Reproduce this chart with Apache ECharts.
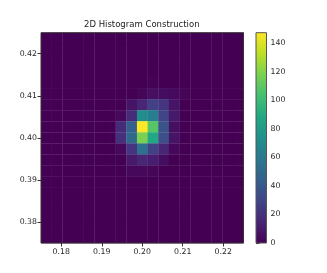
<!DOCTYPE html>
<html>
<head>
<meta charset="utf-8">
<script src="https://cdn.jsdelivr.net/npm/echarts@6/dist/echarts.min.js"></script>
<style>
html,body{margin:0;padding:0;background:#fff;}
#chart{width:327px;height:273px;}
</style>
</head>
<body>
<div id="chart"></div>
<script>
// ---- data ----
const titleText = '2D Histogram Construction';
const xRange = [0.175, 0.225];
const yRange = [0.375, 0.425];
const binCount = 19;
const xTicks = [0.18, 0.19, 0.20, 0.21, 0.22];
const yTicks = [0.38, 0.39, 0.40, 0.41, 0.42];
const cbarTicks = [0, 20, 40, 60, 80, 100, 120, 140];
const cbarMax = 147.4;
// counts: rows from top (high y) to bottom, columns left to right
const counts = [
  [0,0,0,0,0,0,0,0,0,0,0,0,0,0,0,0,0,0,0],
  [0,0,0,0,0,0,0,0,0,0,0,0,0,0,0,0,0,0,0],
  [0,0,0,0,0,0,0,0,0,0,0,0,0,0,0,0,0,0,0],
  [0,0,0,0,0,0,0,0,0,0,0,0,0,0,0,0,0,0,0],
  [0,0,0,0,0,0,0,0,0,0,1,0,0,0,0,0,0,0,0],
  [0,0,0,0,0,0,0,0,0,2,6,5,4,2,0,0,0,0,0],
  [0,0,0,0,0,0,0,0,8,15,28,22,8,0,0,0,0,0,0],
  [0,0,0,0,0,0,0,3,18,72,62,30,10,0,0,0,0,0,0],
  [0,0,0,0,0,0,0,18,45,147,108,38,6,0,0,0,0,0,0],
  [0,0,0,0,0,0,0,20,50,118,88,35,8,0,0,0,0,0,0],
  [0,0,0,0,0,0,0,3,22,55,28,15,3,0,0,0,0,0,0],
  [0,0,0,0,0,0,0,0,10,15,12,5,0,0,0,0,0,0,0],
  [0,0,0,0,0,0,0,0,3,3,2,0,0,0,0,0,0,0,0],
  [0,0,0,0,0,0,0,0,0,0,0,0,0,0,0,0,0,0,0],
  [0,0,0,0,0,0,0,0,0,0,0,0,0,0,0,0,0,0,0],
  [0,0,0,0,0,0,0,0,0,0,0,0,0,0,0,0,0,0,0],
  [0,0,0,0,0,0,0,0,0,0,0,0,0,0,0,0,0,0,0],
  [0,0,0,0,0,0,0,0,0,0,0,0,0,0,0,0,0,0,0],
  [0,0,0,0,0,0,0,0,0,0,0,0,0,0,0,0,0,0,0]
];
const viridis = ['#440154','#482475','#414487','#355f8d','#2a788e','#21918c','#22a884','#44bf70','#7ad151','#bddf26','#fde725'];

// ---- build ----
const dx = (xRange[1]-xRange[0])/binCount;
const dy = (yRange[1]-yRange[0])/binCount;
const cells = [];
counts.forEach((row, r) => {
  const yi = binCount-1-r;
  row.forEach((v, c) => {
    cells.push([xRange[0]+c*dx, xRange[0]+(c+1)*dx, yRange[0]+yi*dy, yRange[0]+(yi+1)*dy, v]);
  });
});

const font = 'DejaVu Sans';
const labelStyle = {fontFamily: font, fontSize: 7.8, color: '#262626'};
const fmt = v => Number(v).toFixed(2);

const chart = echarts.init(document.getElementById('chart'), null, {renderer:'canvas'});
chart.setOption({
  backgroundColor: '#fff',
  animation: false,
  title: {text: titleText, left: 79, top: 15,
    textStyle: {fontFamily: font, fontSize: 8.5, fontWeight: 'normal', color: '#222'}},
  grid: [
    {left: 41, top: 32.7, width: 202.5, height: 210.3, show: true, borderColor: '#333', borderWidth: 1, backgroundColor: 'transparent', z: 10},
    {left: 256, top: 32.7, width: 10.5, height: 210.3, show: false}
  ],
  xAxis: [
    {type:'value', gridIndex:0, min:xRange[0], max:xRange[1], axisLine:{show:false}, splitLine:{show:false},
     axisTick:{show:true, length:3.5, lineStyle:{color:'#333'}, customValues:xTicks},
     axisLabel:Object.assign({margin:5, formatter:fmt, customValues:xTicks}, labelStyle)},
    {type:'value', gridIndex:1, min:0, max:1, show:false}
  ],
  yAxis: [
    {type:'value', gridIndex:0, min:yRange[0], max:yRange[1], axisLine:{show:false}, splitLine:{show:false},
     axisTick:{show:true, length:3.5, lineStyle:{color:'#333'}, customValues:yTicks},
     axisLabel:Object.assign({margin:4, formatter:fmt, customValues:yTicks}, labelStyle)},
    {type:'value', gridIndex:1, position:'right', min:0, max:cbarMax, axisLine:{show:false}, splitLine:{show:false},
     axisTick:{show:true, length:3.5, lineStyle:{color:'#333'}, customValues:cbarTicks},
     axisLabel:Object.assign({margin:4, customValues:cbarTicks}, labelStyle)}
  ],
  visualMap: {show:false, type:'continuous', min:0, max:cbarMax, dimension:4, seriesIndex:0, inRange:{color:viridis}},
  series: [
    {type:'custom', xAxisIndex:0, yAxisIndex:0, encode:{x:[0,1], y:[2,3]}, data:cells,
     renderItem:(params, api) => {
       const p0 = api.coord([api.value(0), api.value(3)]);
       const p1 = api.coord([api.value(1), api.value(2)]);
       return {type:'rect', shape:{x:p0[0], y:p0[1], width:p1[0]-p0[0]+0.3, height:p1[1]-p0[1]+0.3},
         style:{fill: api.visual('color')}};
     }},
    {type:'custom', xAxisIndex:1, yAxisIndex:1, encode:{x:[0,1], y:[2,3]}, data:[[0,1,0,cbarMax]],
     renderItem:(params, api) => {
       const p0 = api.coord([api.value(0), api.value(3)]);
       const p1 = api.coord([api.value(1), api.value(2)]);
       const stops = viridis.map((c,i) => ({offset:i/(viridis.length-1), color:c}));
       return {type:'rect', shape:{x:p0[0], y:p0[1], width:p1[0]-p0[0], height:p1[1]-p0[1]},
         style:{fill: new echarts.graphic.LinearGradient(0,1,0,0,stops), stroke:'#555', lineWidth:1}};
     }}
  ]
});
</script>
</body>
</html>
